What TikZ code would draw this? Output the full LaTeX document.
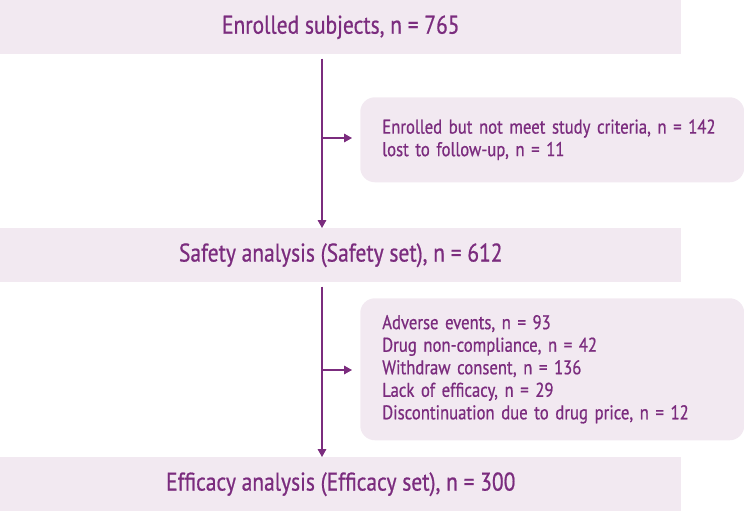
\documentclass[tikz,border=0pt]{standalone}
\usepackage{fontspec}
\setmainfont[FakeStretch=0.84,FakeBold=0.7]{PT Sans}
\usetikzlibrary{arrows.meta,positioning}
\definecolor{boxfill}{HTML}{F2E9F1}
\definecolor{ink}{HTML}{7B2C7E}
\tikzset{
  mainbox/.style={fill=boxfill, draw=none, minimum width=510.75pt, minimum height=40.5pt, inner sep=0pt, text=ink, font=\fontsize{19.2pt}{22pt}\selectfont, anchor=north west},
  sidebox/.style={fill=boxfill, draw=none, rounded corners=11pt, minimum width=288pt, inner xsep=16.5pt, text width=255pt, align=left, text=ink, font=\fontsize{14.9pt}{16.9pt}\selectfont, anchor=north west},
  flow/.style={draw=ink, line width=0.9pt, -{Triangle[length=6pt,width=6.5pt]}},
}
\begin{document}
\begin{tikzpicture}[x=0.75pt, y=-0.75pt]
\useasboundingbox (0,0) rectangle (744,511);
\node[mainbox] (top) at (0,0) {Enrolled subjects, n = 765};
\node[mainbox] (mid) at (0,228) {Safety analysis (Safety set), n = 612};
\node[mainbox] (bot) at (0,457) {Efficacy analysis (Efficacy set), n = 300};
\node[sidebox, minimum height=63.75pt] (s1) at (360,97) {Enrolled but not meet study criteria, n = 142\\lost to follow-up, n = 11};
\node[sidebox, minimum height=106.5pt] (s2) at (360,298) {Adverse events, n = 93\\Drug non-compliance, n = 42\\Withdraw consent, n = 136\\Lack of efficacy, n = 29\\Discontinuation due to drug price, n = 12};
\coordinate (spine) at (322,0);
\coordinate (b1) at (322,138);
\coordinate (b2) at (322,370);
\draw[flow, shorten <=3pt] (top.south -| spine) -- (mid.north -| spine);
\draw[flow, shorten <=3pt] (mid.south -| spine) -- (bot.north -| spine);
\draw[flow, shorten >=6pt] (b1) -- (s1.west |- b1);
\draw[flow, shorten >=6pt] (b2) -- (s2.west |- b2);
\end{tikzpicture}
\end{document}
